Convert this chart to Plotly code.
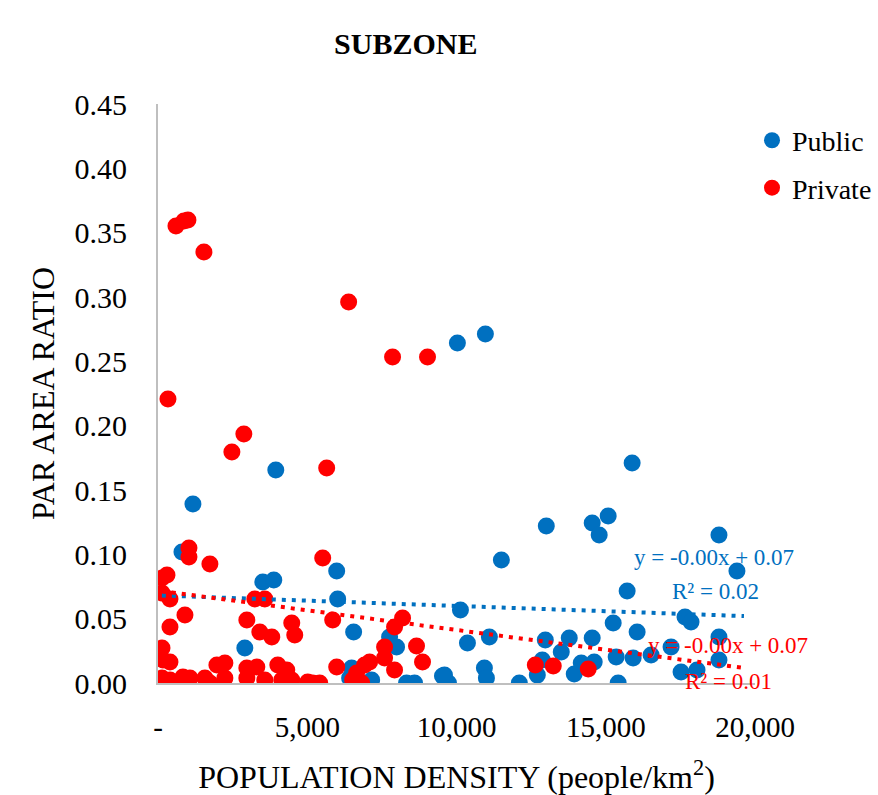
import plotly.graph_objects as go

# ---- data ----
public_x = [10030, 10968, 3946, 1170, 803, 3511, 3879, 5986, 6019, 6554, 2909, 11503,
            13008, 14546, 14780, 15081, 15884, 18793, 19395, 15717, 10132, 17656, 17857,
            15249, 16051, 18793, 18793, 10366, 11102, 12975, 13777, 14546, 13510, 12874,
            12707, 13944, 14179, 14613, 15349, 15917, 16519, 17188, 17523, 18058, 10935,
            11002, 12105, 15416, 9597, 9731, 7758, 7992, 6487, 6420, 7156, 8327, 8594,
            9530, 4314]
public_y = [0.2642, 0.2712, 0.1655, 0.1391, 0.1018, 0.0785, 0.0800, 0.0870, 0.0653, 0.0396,
            0.0272, 0.0956, 0.1220, 0.1243, 0.1150, 0.1298, 0.1710, 0.1150, 0.0870, 0.0715,
            0.0567, 0.0513, 0.0474, 0.0466, 0.0396, 0.0358, 0.0179, 0.0311, 0.0358, 0.0334,
            0.0350, 0.0350, 0.0241, 0.0179, 0.0062, 0.0070, 0.0155, 0.0163, 0.0202, 0.0194,
            0.0218, 0.0280, 0.0085, 0.0101, 0.0117, 0.0039, 0.0000, 0.0000, 0.0062, 0.0000,
            0.0358, 0.0280, 0.0117, 0.0039, 0.0023, 0.0000, 0.0000, 0.0054, 0.0000]

private_x = [602, 869, 1003, 1538, 6387, 7858, 9029, 334, 2876, 2475, 5651, 1037, 1037, 1739,
             5518, 301, 134, 134, 401, 903, 401, 3244, 3578, 2976, 3411, 3812, 4481, 4581,
             5852, 7925, 8193, 7591, 7591, 8661, 8862, 7925, 5986, 6922, 6655, 6521, 6822,
             5183, 5417, 134, 167, 401, 134, 401, 836, 1070, 1572, 1739, 1973, 2240, 2240,
             2976, 3311, 2976, 3578, 4013, 4314, 4147, 4481, 5016, 7089, 12640, 13242, 14413,
             468]
private_y = [0.3552, 0.3591, 0.3598, 0.3350, 0.2961, 0.2534, 0.2534, 0.2207, 0.1935, 0.1795,
             0.1671, 0.1049, 0.0979, 0.0925, 0.0971, 0.0839, 0.0816, 0.0699, 0.0653, 0.0528,
             0.0435, 0.0653, 0.0653, 0.0490, 0.0396, 0.0358, 0.0466, 0.0373, 0.0490, 0.0435,
             0.0505, 0.0280, 0.0194, 0.0288, 0.0163, 0.0101, 0.0124, 0.0140, 0.0078, 0.0023,
             0.0000, 0.0000, 0.0000, 0.0272, 0.0179, 0.0163, 0.0039, 0.0023, 0.0047, 0.0039,
             0.0039, 0.0000, 0.0140, 0.0155, 0.0039, 0.0117, 0.0124, 0.0039, 0.0023, 0.0140,
             0.0101, 0.0023, 0.0023, 0.0008, 0.0163, 0.0140, 0.0132, 0.0109, 0.0000]

# linear trendlines (slope, intercept)
trend_x = [130, 19630]
public_trend = (-8.2e-7, 0.0681)
private_trend = (-3.06e-6, 0.0718)
public_eq = ["y = -0.00x + 0.07", "R² = 0.02"]
private_eq = ["y = -0.00x + 0.07", "R² = 0.01"]

x_tickvals = [0, 5000, 10000, 15000, 20000]
x_ticktext = ["-", "5,000", "10,000", "15,000", "20,000"]
y_tickvals = [0, 0.05, 0.10, 0.15, 0.20, 0.25, 0.30, 0.35, 0.40, 0.45]
y_ticktext = ["0.00", "0.05", "0.10", "0.15", "0.20", "0.25", "0.30", "0.35", "0.40", "0.45"]

BLUE = "#0070C0"
RED = "#FF0000"
FONT = "Liberation Serif"

fig = go.Figure()
fig.add_trace(go.Scatter(x=public_x, y=public_y, mode="markers", name="Public",
                         legendgroup="pub",
                         marker=dict(color=BLUE, size=17, line=dict(width=0))))
fig.add_trace(go.Scatter(x=private_x, y=private_y, mode="markers", name="Private",
                         legendgroup="priv",
                         marker=dict(color=RED, size=17, line=dict(width=0))))

for (m, b), col in ((public_trend, BLUE), (private_trend, RED)):
    fig.add_trace(go.Scatter(x=trend_x, y=[m * x + b for x in trend_x], mode="lines",
                             showlegend=False, hoverinfo="skip",
                             line=dict(color=col, width=4, dash="4px,6px")))

ann = []
ann.append(dict(x=18626, y=0.0979, text=public_eq[0], font=dict(color=BLUE, size=23, family=FONT)))
ann.append(dict(x=18660, y=0.0715, text=public_eq[1], font=dict(color=BLUE, size=23, family=FONT)))
ann.append(dict(x=19094, y=0.0288, text=private_eq[0], font=dict(color=RED, size=23, family=FONT)))
ann.append(dict(x=19125, y=0.0008, text=private_eq[1], font=dict(color=RED, size=23, family=FONT)))
for a in ann:
    a.update(xref="x", yref="y", showarrow=False, xanchor="center", yanchor="middle")

fig.update_layout(
    width=878, height=795,
    margin=dict(l=158, r=123, t=104, b=112, autoexpand=False),
    paper_bgcolor="white", plot_bgcolor="white",
    font=dict(family=FONT, color="black", size=28),
    title=dict(text="<b>SUBZONE</b>", x=0.415, xref="paper", xanchor="center",
               y=0.945, yref="container", yanchor="middle",
               font=dict(size=30, family=FONT, color="black")),
    showlegend=True,
    legend=dict(x=0.995, xanchor="left", y=0.98, yanchor="top",
                font=dict(size=28, family=FONT, color="black"),
                tracegroupgap=8, bgcolor="rgba(0,0,0,0)"),
    annotations=ann,
    xaxis=dict(range=[0, 20000], tickvals=x_tickvals, ticktext=x_ticktext,
               showgrid=False, zeroline=False, showline=True, linecolor="#BFBFBF",
               linewidth=2, ticks="", ticklabelstandoff=17,
               tickfont=dict(size=29, family=FONT, color="black"),
               title=dict(text="POPULATION DENSITY (people/km<sup>2</sup>)", standoff=31,
                          font=dict(size=32, family=FONT, color="black"))),
    yaxis=dict(range=[0, 0.45], tickvals=y_tickvals, ticktext=y_ticktext,
               showgrid=False, zeroline=False, showline=True, linecolor="#BFBFBF",
               linewidth=2, ticks="", ticklabelstandoff=23,
               tickfont=dict(size=30, family=FONT, color="black"),
               title=dict(text="PAR AREA RATIO", standoff=10,
                          font=dict(size=32, family=FONT, color="black"))),
)

fig.write_html("out.html")
